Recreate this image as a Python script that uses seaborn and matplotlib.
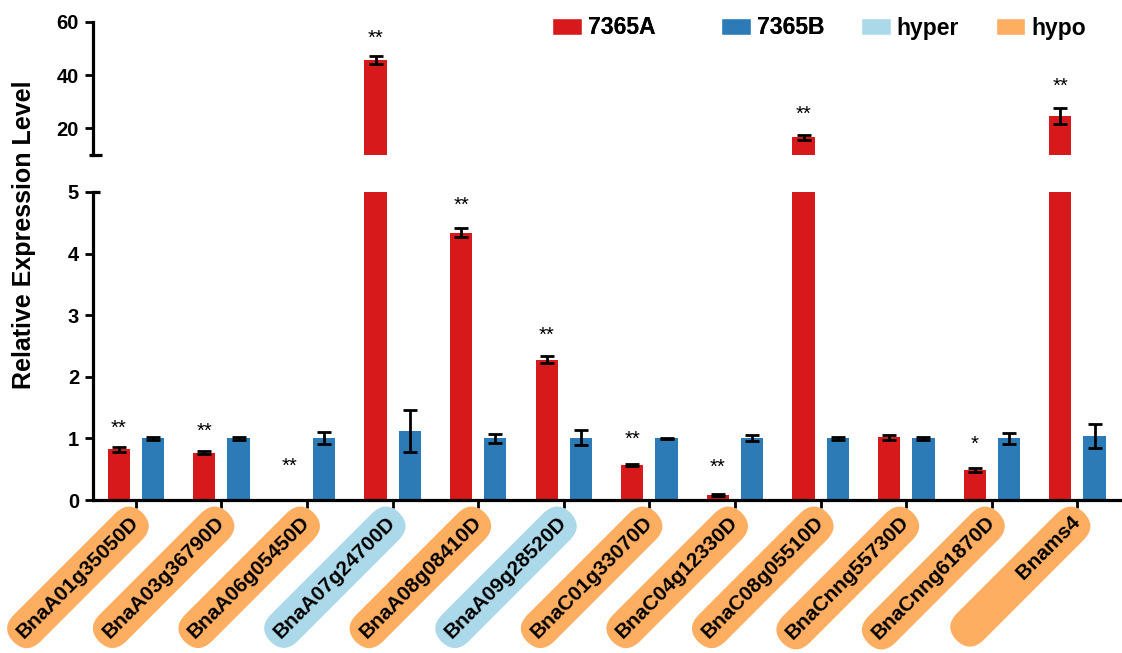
import numpy as np
import pandas as pd
import matplotlib
matplotlib.use("Agg")
import matplotlib.pyplot as plt
import seaborn as sns
from matplotlib.patches import Patch

# ---- data -------------------------------------------------------------
genes = ["BnaA01g35050D", "BnaA03g36790D", "BnaA06g05450D", "BnaA07g24700D",
         "BnaA08g08410D", "BnaA09g28520D", "BnaC01g33070D", "BnaC04g12330D",
         "BnaC08g05510D", "BnaCnng55730D", "BnaCnng61870D", "Bnams4"]
methylation = ["hypo", "hypo", "hypo", "hyper", "hypo", "hyper",
               "hypo", "hypo", "hypo", "hypo", "hypo", "hypo"]
expr_7365A = [0.82, 0.77, 0.0, 45.7, 4.34, 2.28, 0.57, 0.08, 16.6, 1.02, 0.49, 24.5]
err_7365A = [0.04, 0.03, 0.0, 1.6, 0.07, 0.06, 0.02, 0.01, 1.0, 0.04, 0.03, 3.0]
expr_7365B = [1.0, 1.0, 1.01, 1.12, 1.0, 1.01, 1.0, 1.0, 1.0, 1.0, 1.0, 1.04]
err_7365B = [0.02, 0.02, 0.10, 0.34, 0.07, 0.12, 0.01, 0.05, 0.02, 0.03, 0.09, 0.19]
signif = ["**", "**", "**", "**", "**", "**", "**", "**", "**", "", "*", "**"]
signif_y = [1.17, 1.12, 0.55, 53.8, 4.78, 2.68, 0.99, 0.53, 25.3, np.nan, 0.90, 35.6]
lines = ["7365A", "7365B"]

RED, BLUE = "#D7191C", "#2C7BB6"
HYPER, HYPO = "#ABD9E9", "#FDAE61"
box_colors = {"hyper": HYPER, "hypo": HYPO}

df = pd.DataFrame({
    "gene": genes * 2,
    "line": [lines[0]] * len(genes) + [lines[1]] * len(genes),
    "value": expr_7365A + expr_7365B,
})

# ---- style ------------------------------------------------------------
sns.set_style("ticks")
plt.rcParams["font.family"] = ["Liberation Sans", "DejaVu Sans"]
plt.rcParams["font.weight"] = "bold"
plt.rcParams.update({"text.color": "black", "axes.edgecolor": "black",
                     "xtick.color": "black", "ytick.color": "black",
                     "axes.labelcolor": "black"})

fig = plt.figure(figsize=(11.22, 6.53), dpi=100)
ax_top = fig.add_axes([0.0829, 0.7626, 0.9171, 0.2041])
ax_bot = fig.add_axes([0.0829, 0.2343, 0.9171, 0.4717])

SPINE_LW = 2.3
YTICK_SIZE = 14.5

for ax in (ax_top, ax_bot):
    sns.barplot(data=df, x="gene", y="value", hue="line", order=genes,
                hue_order=lines, palette=[RED, BLUE], width=0.8, gap=0.35,
                errorbar=None, legend=False, saturation=1, linewidth=0, ax=ax)
    # error bars on every bar
    for cont, vals, errs in zip(ax.containers, (expr_7365A, expr_7365B),
                                (err_7365A, err_7365B)):
        xs = [p.get_x() + p.get_width() / 2 for p in cont]
        for x, v, e in zip(xs, vals, errs):
            if e > 0:
                ax.errorbar(x, v, yerr=e, fmt="none", ecolor="black",
                            elinewidth=2.0, capsize=5, capthick=2.0, zorder=3)
    ax.set_xlim(-0.5, 11.52)
    ax.set_xlabel("")
    ax.set_ylabel("")
    for s in ("top", "right"):
        ax.spines[s].set_visible(False)
    ax.spines["left"].set_linewidth(SPINE_LW)
    ax.spines["bottom"].set_linewidth(SPINE_LW)
    ax.tick_params(axis="y", length=6, width=2.0, labelsize=YTICK_SIZE, pad=4,
                   colors="black")

# significance marks above the 7365A bars
red_x = [p.get_x() + p.get_width() / 2 for p in ax_bot.containers[0]]
for x, s, y in zip(red_x, signif, signif_y):
    if not s:
        continue
    target = ax_bot if y <= 5 else ax_top
    target.text(x, y, s, ha="center", va="center", fontsize=14.5,
                fontweight="normal", color="black")

# upper panel
ax_top.set_ylim(10, 60)
ax_top.set_yticks([20, 40, 60])
ax_top.set_yticklabels(["20", "40", "60"], fontweight="bold", fontsize=YTICK_SIZE)
ax_top.spines["bottom"].set_visible(False)
ax_top.tick_params(axis="x", bottom=False, labelbottom=False)

# lower panel
ax_bot.set_ylim(0, 5)
ax_bot.set_yticks([0, 1, 2, 3, 4, 5])
ax_bot.set_yticklabels(["0", "1", "2", "3", "4", "5"], fontweight="bold",
                       fontsize=YTICK_SIZE)
ax_bot.tick_params(axis="x", length=6, width=2.0, pad=8, colors="black")
ax_bot.set_xticks(range(len(genes)))
longest = max(len(g) for g in genes)
tick_text = [g if len(g) >= longest - 2 else " " * 14 + g for g in genes]
ax_bot.set_xticklabels(tick_text, rotation=45, ha="right", va="center",
                       rotation_mode="anchor", fontsize=15, fontweight="bold")
for lab, m in zip(ax_bot.get_xticklabels(), methylation):
    lab.set_bbox(dict(boxstyle="round,pad=0.45,rounding_size=0.95",
                      fc=box_colors[m], ec="none"))

# axis-break caps
ax_top.plot([-0.004, 0.009], [0, 0], transform=ax_top.transAxes, color="black",
            lw=SPINE_LW, clip_on=False, solid_capstyle="butt")
ax_bot.plot([0, 0.007], [1, 1], transform=ax_bot.transAxes, color="black",
            lw=SPINE_LW, clip_on=False, solid_capstyle="butt")

fig.text(24 / 1122, 1 - 235 / 653, "Relative Expression Level", rotation=90,
         fontsize=18, fontweight="bold", ha="center", va="center")

# legends: expression lines, then methylation status
leg_kw = dict(loc="center left", ncol=2, frameon=False,
              prop=dict(weight="bold", size=16.5), handlelength=1.3,
              handleheight=0.7, handletextpad=0.25, borderpad=0,
              borderaxespad=0)
leg1 = fig.legend([Patch(fc=RED), Patch(fc=BLUE)], lines,
                  bbox_to_anchor=(552 / 1122, 1 - 28 / 653),
                  columnspacing=2.9, **leg_kw)
fig.add_artist(leg1)
fig.legend([Patch(fc=HYPER), Patch(fc=HYPO)], ["hyper", "hypo"],
           bbox_to_anchor=(861 / 1122, 1 - 28 / 653),
           columnspacing=1.6, **leg_kw)

fig.savefig("out.png", dpi=100)
